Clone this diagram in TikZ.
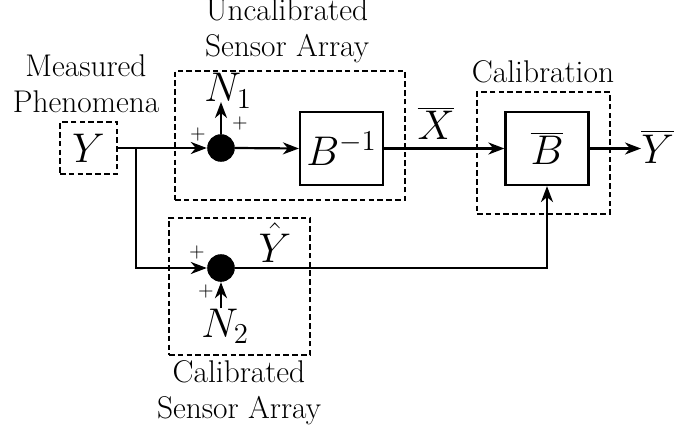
\documentclass[tikz,border=0pt]{standalone}
\usetikzlibrary{arrows.meta}
\begin{document}
\begin{tikzpicture}[x=0.5pt,y=-0.5pt,
  every node/.style={inner sep=0pt},
  txt/.style={font=\fontsize{15.7}{18}\selectfont, align=center, anchor=base},
  mth/.style={font=\fontsize{20.74}{25}\selectfont},
  pls/.style={font=\fontsize{10}{12}\selectfont},
  dbox/.style={draw, line width=1.1pt, dash pattern=on 2.8pt off 1.6pt},
  sbox/.style={draw, line width=1.1pt, minimum width=41.5pt, minimum height=36.5pt, font=\fontsize{20.74}{25}\selectfont},
  sumdot/.style={circle, fill=black, minimum size=13.8pt},
  arr/.style={line width=1.1pt, -{Stealth[length=8pt,width=6pt,inset=2.5pt]}},
  ln/.style={line width=1.1pt}]
\useasboundingbox (0,0) rectangle (675,433);

% dashed group boxes
\node[dbox, minimum width=115pt, minimum height=64.5pt] (uncal) at (290,135.5) {};
\node[dbox, minimum width=66.5pt, minimum height=61pt] (cal) at (543.5,153) {};
\node[dbox, minimum width=70.5pt, minimum height=68.5pt] (calib) at (239.5,286.5) {};
\node[dbox, mth, minimum width=28.5pt, minimum height=26pt] (Ybox) at (88.5,148) {$Y$};

% group labels (anchor = baseline of the last line)
\node[txt] (lmeas) at (86,113) {Measured\\Phenomena};
\node[txt] (luncal) at (287,57) {Uncalibrated\\Sensor Array};
\node[txt] (lcal) at (543,83) {Calibration};
\node[txt] (lcalib) at (239,418) {Calibrated\\Sensor Array};

% blocks
\node[sbox] (Binv) at (341.5,148.5) {$B^{-1}$};
\node[sbox] (Bbar) at (547,148.5) {$\overline{B}$};
\node[sumdot] (d1) at (221,148) {};
\node[sumdot] (d2) at (221,268) {};

% math labels
\node[mth, anchor=base west] (N1) at (204,102) {$N_1$};
\node[mth, anchor=base west] (N2) at (201,337) {$N_2$};
\node[mth, anchor=base] (Yhat) at (275,262) {$\hat{Y}$};
\node[mth, anchor=base] (Xbar) at (436,140) {$\overline{X}$};
\node[mth, anchor=base west] (Yout) at (641,163) {$\overline{Y}$};

% plus signs
\node[pls] (p1) at (198,135) {$+$};
\node[pls] (p2) at (240,124) {$+$};
\node[pls] (p3) at (197,252) {$+$};
\node[pls] (p4) at (206,291) {$+$};

% connectors
\coordinate (br) at (136,148);
\draw[arr] (Ybox.east) -- (d1.west);
\draw[arr] (br) |- (d2.west);
\draw[arr] (d1.north) -- (d1.north |- N1.base);
\draw[arr] (d1.east) -- (Binv.west);
\draw[arr] (Binv.east) -- (Bbar.west);
\draw[arr] (Bbar.east) -- (Yout.west |- Bbar.east);
\draw[arr] (d2 |- N2.north) -- (d2.south);
\draw[arr] (d2.east) -| (Bbar.south);
\end{tikzpicture}
\end{document}
